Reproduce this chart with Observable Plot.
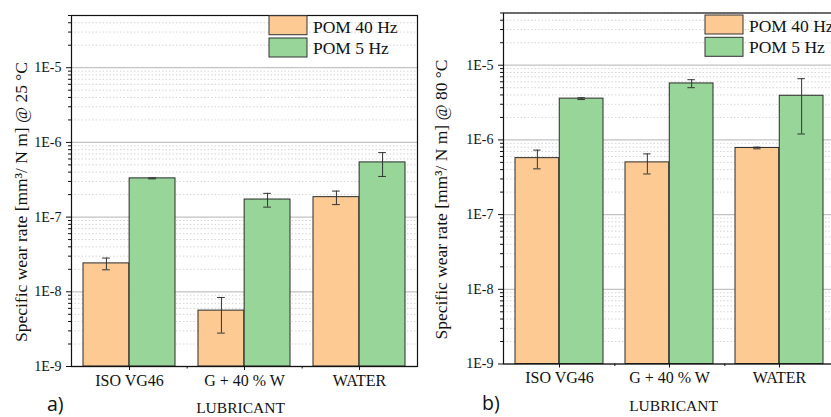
<!DOCTYPE html>
<html><head><meta charset="utf-8">
<script src="https://cdn.jsdelivr.net/npm/d3@7"></script>
<script src="https://cdn.jsdelivr.net/npm/@observablehq/plot@0.6"></script>
<style>
html,body{margin:0;padding:0;background:#fff;overflow:hidden;}
#wrap{position:relative;width:831px;height:417px;overflow:hidden;background:#fff;}
.panel{position:absolute;top:0;}
.panel text{font-family:"Liberation Serif","Times New Roman",serif;}
#overlay{position:absolute;left:0;top:0;}
</style></head>
<body><div id="wrap"></div>
<script>
// ---- data ----
const categories = ["ISO VG46", "G + 40 % W", "WATER"];
const seriesNames = ["POM 40 Hz", "POM 5 Hz"];
// panel a) 25 °C
const pom40_25 = [2.4e-8, 5.6e-9, 1.85e-7];
const pom40_25err = [0.43e-8, 2.8e-9, 0.38e-7];
const pom5_25 = [3.3e-7, 1.72e-7, 5.4e-7];
const pom5_25err = [0.05e-7, 0.36e-7, 1.9e-7];
// panel b) 80 °C
const pom40_80 = [5.7e-7, 5.0e-7, 7.8e-7];
const pom40_80err = [1.6e-7, 1.5e-7, 0.2e-7];
const pom5_80 = [3.57e-6, 5.7e-6, 3.9e-6];
const pom5_80err = [0.1e-6, 0.7e-6, 2.7e-6];
// axes
const yMajorTicks = [1e-9, 1e-8, 1e-7, 1e-6, 1e-5];
const yTickLabels = ["1E-9", "1E-8", "1E-7", "1E-6", "1E-5"];
const yMinorMultipliers = [2, 3, 4, 5, 6, 7, 8, 9];
const yDomain = [1e-9, 5e-5];
const yTitles = ["Specific wear rate [mm³/ N m] @ 25 °C", "Specific wear rate [mm³/ N m] @ 80 °C"];
const xTitle = "LUBRICANT";
const panelTags = ["a)", "b)"];

// ---- styling ----
const colors = ["#fdca94", "#97d598"];
const serif = "Liberation Serif";
const yMinorTicks = [];
yMajorTicks.forEach(d => yMinorMultipliers.forEach(m => { const t = d * m; if (t <= yDomain[1] * 1.0001) yMinorTicks.push(t); }));

const wrap = document.getElementById("wrap");

function panel(cfg) {
  const {svgLeft, svgWidth, left, right, top, bottom, v40, e40, v5, e5, title, titleDy, xTitleDx} = cfg;
  const W = right - left;
  const step = W / 3;
  const bw = step * 0.8;
  const rows40 = categories.map((c, i) => ({c, v: v40[i], e: e40[i]}));
  const rows5 = categories.map((c, i) => ({c, v: v5[i], e: e5[i]}));
  const err = (rows, dx, ins) => [
    Plot.ruleX(rows, {x: "c", y1: d => d.v - d.e, y2: d => d.v + d.e, dx, stroke: "#333", strokeWidth: 1}),
    Plot.tickY(rows, {x: "c", y: d => d.v + d.e, insetLeft: ins[0], insetRight: ins[1], stroke: "#333", strokeWidth: 1}),
    Plot.tickY(rows, {x: "c", y: d => d.v - d.e, insetLeft: ins[0], insetRight: ins[1], stroke: "#333", strokeWidth: 1})
  ];
  const cap = 4;
  const p = Plot.plot({
    width: svgWidth, height: 417,
    marginLeft: left - svgLeft, marginRight: svgLeft + svgWidth - right,
    marginTop: top, marginBottom: 417 - bottom,
    style: {fontFamily: serif, fontSize: "16px", color: "#111", background: "transparent", overflow: "visible"},
    x: {domain: categories, paddingInner: 0.2, paddingOuter: 0.1, label: null, axis: null},
    y: {type: "log", domain: yDomain, label: null, axis: null},
    marks: [
      Plot.gridY(yMinorTicks, {stroke: "#d4d4d4", strokeOpacity: 1, strokeDasharray: "1.5,2"}),
      Plot.gridY(yMajorTicks, {stroke: "#c2c2c2", strokeOpacity: 1, strokeWidth: 1.3}),
      Plot.barY(rows40, {x: "c", y1: () => yDomain[0], y2: "v", fill: colors[0], stroke: "#2a2a2a", strokeWidth: 1, insetRight: bw / 2}),
      Plot.barY(rows5, {x: "c", y1: () => yDomain[0], y2: "v", fill: colors[1], stroke: "#2a2a2a", strokeWidth: 1, insetLeft: bw / 2}),
      ...err(rows40, -bw / 4, [bw / 4 - cap, 3 * bw / 4 - cap]),
      ...err(rows5, bw / 4, [3 * bw / 4 - cap, bw / 4 - cap]),
      Plot.axisY(yMinorTicks, {tickSize: 3, tickFormat: () => "", label: null, stroke: "#111"}),
      Plot.axisY(yMajorTicks, {tickSize: 5, tickPadding: 5, fontSize: 14, fontFamily: serif, tickFormat: d => yTickLabels[yMajorTicks.indexOf(d)], label: null, stroke: "#111", fill: "#111"}),
      Plot.axisX(categories, {tickSize: 4, tickPadding: 4, fontSize: 16, fontFamily: serif, label: null, stroke: "#111", fill: "#111"}),
      Plot.axisX(categories.slice(0, -1), {tickSize: 2.5, dx: step / 2, tickFormat: () => "", label: null, stroke: "#111"}),
      Plot.text([title], {frameAnchor: "left", rotate: -90, dx: -(left - svgLeft) + 21, dy: titleDy, fontSize: 17.5, fontFamily: serif, fill: "#111", textAnchor: "middle"}),
      Plot.text([xTitle], {frameAnchor: "bottom", dy: 42, dx: xTitleDx, fontSize: 15.5, fontFamily: serif, fill: "#111", lineAnchor: "middle"}),
      Plot.frame({stroke: "#111", strokeWidth: 1.2})
    ]
  });
  p.classList.add("panel");
  p.style.left = svgLeft + "px";
  wrap.appendChild(p);
}

panel({svgLeft: 0, svgWidth: 420, left: 71, right: 417, top: 15, bottom: 366,
  v40: pom40_25, e40: pom40_25err, v5: pom5_25, e5: pom5_25err, title: yTitles[0], titleDy: 11, xTitleDx: -4});
panel({svgLeft: 420, svgWidth: 420, left: 503, right: 835, top: 12.5, bottom: 363.5,
  v40: pom40_80, e40: pom40_80err, v5: pom5_80, e5: pom5_80err, title: yTitles[1], titleDy: 11, xTitleDx: 4});

// legends and panel tags
const svg = d3.select(wrap).append("svg").attr("id", "overlay").attr("width", 831).attr("height", 417);
const legends = [{x: 269, y: 15.7}, {x: 705, y: 15}];
legends.forEach(L => {
  seriesNames.forEach((name, i) => {
    svg.append("rect").attr("x", L.x).attr("y", L.y + i * 22.3).attr("width", 38).attr("height", 19)
      .attr("fill", colors[i]).attr("stroke", "#333").attr("stroke-width", 1);
    svg.append("text").attr("x", L.x + 44).attr("y", L.y + 17 + i * 21)
      .attr("font-family", "Liberation Serif").attr("font-size", 17.5).attr("fill", "#111").text(name);
  });
});
const tagPos = [{x: 47, y: 411}, {x: 482, y: 410}];
panelTags.forEach((t, i) => {
  svg.append("text").attr("x", tagPos[i].x).attr("y", tagPos[i].y)
    .attr("font-family", "Open Sans").attr("font-size", 19.5).attr("fill", "#111").text(t);
});
</script>
</body></html>
